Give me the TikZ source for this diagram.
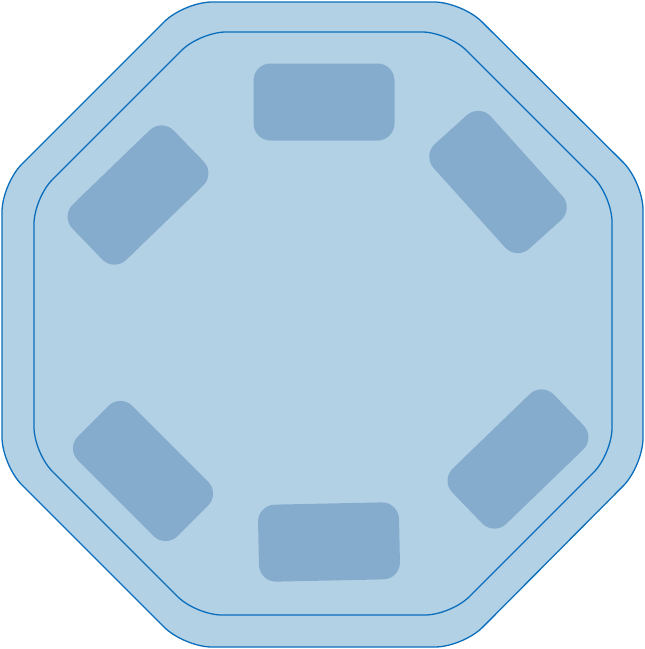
\documentclass[tikz,border=0pt]{standalone}
\usepackage{xcolor}
\usepackage{tikz}
\usetikzlibrary{positioning}
\usetikzlibrary{calc}
\definecolor{feltblue}{HTML}{B2D1E5}
\definecolor{rimblue}{HTML}{0A6EBD}
\definecolor{seatblue}{HTML}{85ABCD}

\begin{document}
\begin{tikzpicture}[x=1pt,y=-1pt]
\tikzstyle{rim}=[draw=rimblue,line width=1.3pt,fill=feltblue]
\tikzstyle{seat}=[fill=seatblue,rounded corners=17pt,minimum width=141pt,minimum height=77pt,inner sep=0pt]
\useasboundingbox (0,0) rectangle (645,649);
% outer rim
\draw[rim,rounded corners=28pt] (184,2) -- (462,2) -- (643,182) -- (643,466) -- (463,647) -- (184,647) -- (2,465) -- (2,184) -- cycle;
% inner rim
\draw[rim,rounded corners=26pt] (200,32) -- (448,32) -- (612,196) -- (612,454) -- (451,615) -- (196,615) -- (34,453) -- (34,198) -- cycle;
% seats
\node[seat] (seatN) at (324,102) {};
\node[seat,rotate=-48] (seatNE) at (498,182) {};
\node[seat,rotate=44] (seatSE) at (518,459) {};
\node[seat,rotate=1.2] (seatS) at (329,542) {};
\node[seat,rotate=-45] (seatSW) at (143,471) {};
\node[seat,rotate=44] (seatNW) at (138,195) {};
\end{tikzpicture}
\end{document}
